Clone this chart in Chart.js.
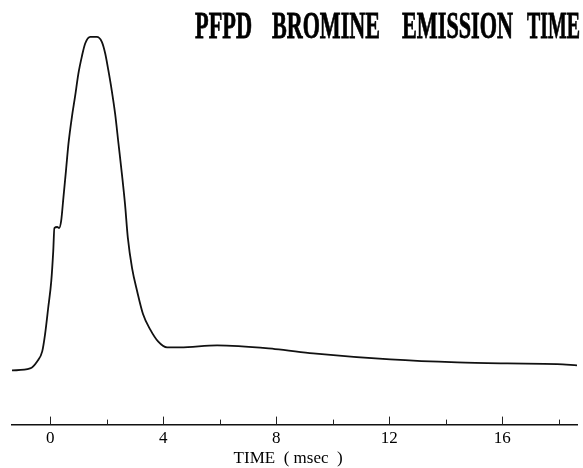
<!DOCTYPE html>
<html>
<head>
<meta charset="utf-8">
<script src="https://cdn.jsdelivr.net/npm/chart.js@4.4.1/dist/chart.umd.min.js"></script>
<style>
  html, body { margin: 0; padding: 0; background: #fff; }
  #wrap { width: 583px; height: 468px; position: relative; }
</style>
</head>
<body>
<div id="wrap"><canvas id="emission"></canvas></div>
<script>
// time axis in msec, signal in arbitrary units (peak ~ 100)
const timeMs = [-1.35, -0.71, -0.46, -0.28, -0.18, -0.07, 0.04, 0.11, 0.15, 0.25, 0.32, 0.39, 0.47,
                0.56, 0.65, 0.77, 0.88, 1.00, 1.12, 1.24, 1.42, 1.65, 1.83, 1.95, 2.06, 2.18, 2.30,
                2.42, 2.54, 2.65, 2.75, 2.90, 3.08, 3.29, 3.54, 3.82, 4.14, 4.60, 5.91, 7.96, 9.31,
                12.04, 14.41, 16.18, 17.95, 18.65];
const signal = [0.2, 0.8, 2.9, 5.9, 11.0, 18.8, 26.9, 35.9, 42.8, 43.1, 42.8, 44.9, 51.9,
                59.9, 68.1, 76.0, 82.0, 89.0, 94.0, 98.0, 100.0, 100.0, 98.5, 95.0, 90.0, 84.0, 77.0,
                68.0, 59.0, 50.0, 39.9, 30.8, 23.9, 17.0, 12.5, 8.9, 7.1, 7.1, 7.7, 6.6, 5.3,
                3.5, 2.6, 2.3, 2.1, 1.7];
const majorTicks = [0, 4, 8, 12, 16];
const minorTicks = [2, 6, 10, 14, 18];
const titleWords = ["PFPD", "BROMINE", "EMISSION", "TIME"];
// trailing spaces nudge the centred label a little to the left, as in the original
const axisTitle = "TIME  ( msec  )   ";

const points = timeMs.map((t, i) => ({ x: t, y: signal[i] }));

// tick marks point up from the axis line, majors longer than minors
const upTicks = {
    id: "upTicks",
    afterDraw(chart) {
        const x = chart.scales.x;
        const bottom = chart.chartArea.bottom;
        const ctx = chart.ctx;
        ctx.save();
        ctx.strokeStyle = "#222";
        ctx.lineWidth = 1;
        majorTicks.concat(minorTicks).forEach(v => {
            const px = Math.round(x.getPixelForValue(v)) + 0.5;
            const len = majorTicks.includes(v) ? 8 : 5;
            ctx.beginPath();
            ctx.moveTo(px, bottom);
            ctx.lineTo(px, bottom - len);
            ctx.stroke();
        });
        ctx.restore();
    }
};

// condensed bold serif heading in the top right corner
const heading = {
    id: "heading",
    afterDraw(chart) {
        const ctx = chart.ctx;
        const spans = [[195, 252], [272, 380], [402, 513], [527, 580]];
        ctx.save();
        ctx.font = 'bold 38px "Liberation Serif", "Times New Roman", serif';
        ctx.fillStyle = "#000";
        ctx.strokeStyle = "#000";
        ctx.lineWidth = 0.8;
        ctx.textBaseline = "alphabetic";
        titleWords.forEach((w, i) => {
            const width = ctx.measureText(w).width;
            const sx = (spans[i][1] - spans[i][0]) / width;
            ctx.save();
            ctx.translate(spans[i][0], 38);
            ctx.scale(sx, 1);
            ctx.fillText(w, 0, 0);
            ctx.strokeText(w, 0, 0);
            ctx.restore();
        });
        ctx.restore();
    }
};

new Chart(document.getElementById("emission").getContext("2d"), {
    type: "line",
    data: {
        datasets: [{
            data: points,
            borderColor: "#111",
            borderWidth: 1.8,
            pointRadius: 0,
            fill: false,
            cubicInterpolationMode: "monotone"
        }]
    },
    options: {
        responsive: true,
        maintainAspectRatio: false,
        animation: false,
        layout: { padding: { left: 12, right: 6, top: 0, bottom: 0 } },
        plugins: { legend: { display: false }, tooltip: { enabled: false } },
        scales: {
            x: {
                type: "linear",
                min: -1.35,
                max: 18.65,
                afterBuildTicks: scale => { scale.ticks = majorTicks.map(v => ({ value: v })); },
                grid: { display: false, drawTicks: false },
                border: { display: true, color: "#111", width: 1.5 },
                ticks: {
                    padding: 4,
                    maxRotation: 0,
                    color: "#000",
                    font: { family: '"Liberation Serif", "Times New Roman", serif', size: 17 }
                },
                title: {
                    display: true,
                    text: axisTitle,
                    color: "#000",
                    padding: { top: -4.4, bottom: -1 },
                    font: { family: '"Liberation Serif", "Times New Roman", serif', size: 17 }
                }
            },
            y: {
                display: false,
                min: -16,
                max: 111
            }
        }
    },
    plugins: [upTicks, heading]
});
</script>
</body>
</html>
